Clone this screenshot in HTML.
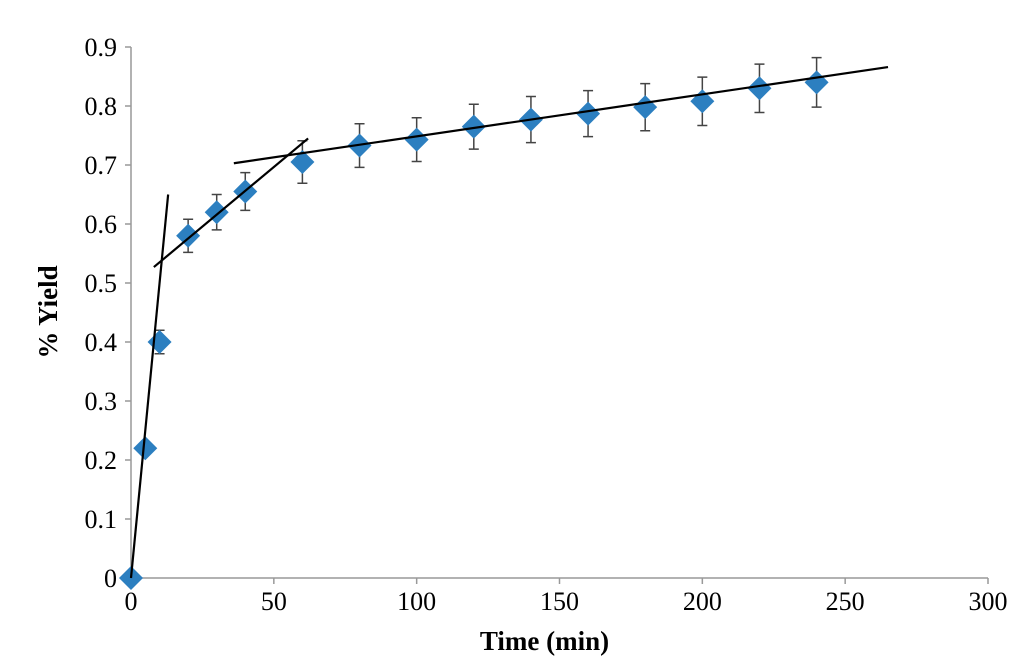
<!DOCTYPE html>
<html><head><meta charset="utf-8"><style>
body{margin:0;background:#fff}
text{font-family:"Liberation Serif",serif}
</style></head><body>
<svg id="chart" width="1024" height="664" xmlns="http://www.w3.org/2000/svg"></svg>
<script>
const xTicks=[0,50,100,150,200,250,300];
const yTicks=[0,0.1,0.2,0.3,0.4,0.5,0.6,0.7,0.8,0.9];
const times=[0,5,10,20,30,40,60,80,100,120,140,160,180,200,220,240];
const yields=[0,0.22,0.40,0.58,0.62,0.655,0.705,0.733,0.743,0.765,0.777,0.787,0.798,0.808,0.83,0.84];
const errs=[0,0.01,0.02,0.028,0.03,0.032,0.036,0.037,0.037,0.038,0.039,0.039,0.04,0.041,0.041,0.042];
const fitLines=[[0,0,13,0.65],[8,0.527,62,0.745],[36,0.703,265,0.866]];
const X0=131,X1=988,Y0=578,Y1=47;
const sx=v=>X0+(v-0)/300*(X1-X0);
const sy=v=>Y0-v/0.9*(Y0-Y1);
const svg=document.getElementById('chart');
const NS='http://www.w3.org/2000/svg';
function mk(t,a,txt){const e=document.createElementNS(NS,t);for(const k in a)e.setAttribute(k,a[k]);if(txt!==undefined)e.textContent=txt;svg.appendChild(e);return e;}
let e;
e=mk('line',{x1:X0,y1:Y0,x2:X1,y2:Y0,stroke:'#999','stroke-width':1.5});

e=mk('line',{x1:X0,y1:Y0,x2:X0,y2:Y1,stroke:'#999','stroke-width':1.5});

xTicks.forEach(v=>{
 e=mk('line',{x1:sx(v),y1:Y0,x2:sx(v),y2:Y0+6,stroke:'#999','stroke-width':1.5});
 
 e=mk('text',{x:sx(v),y:Y0+32,'text-anchor':'middle','font-size':26},String(v));
 
});
yTicks.forEach(v=>{
 e=mk('line',{x1:X0-6,y1:sy(v),x2:X0,y2:sy(v),stroke:'#999','stroke-width':1.5});
 
 e=mk('text',{x:X0-14,y:sy(v)+9,'text-anchor':'end','font-size':26},String(v));
 
});
e=mk('text',{x:(X0+X1)/2-15,y:650,'text-anchor':'middle','font-size':27,'font-weight':'bold'},'Time (min)');

e=mk('text',{x:0,y:0,'text-anchor':'middle','font-size':27,'font-weight':'bold',transform:'translate(57,312) rotate(-90)'},'% Yield');

times.forEach((t,i)=>{
 const cx=sx(t),cy=sy(yields[i]),er=errs[i];
 if(er>0){
  const a=sy(yields[i]+er),b=sy(yields[i]-er);
  e=mk('path',{d:`M${cx},${a}V${b}M${cx-5},${a}H${cx+5}M${cx-5},${b}H${cx+5}`,stroke:'#444','stroke-width':1.5,fill:'none'});
  
 }
 e=mk('path',{d:`M${cx},${cy-12}L${cx+12},${cy}L${cx},${cy+12}L${cx-12},${cy}Z`,fill:'#2c7fc0'});
 
});
fitLines.forEach(l=>{
 e=mk('line',{x1:sx(l[0]),y1:sy(l[1]),x2:sx(l[2]),y2:sy(l[3]),stroke:'#000','stroke-width':2.2});
 
});
</script>
</body></html>
